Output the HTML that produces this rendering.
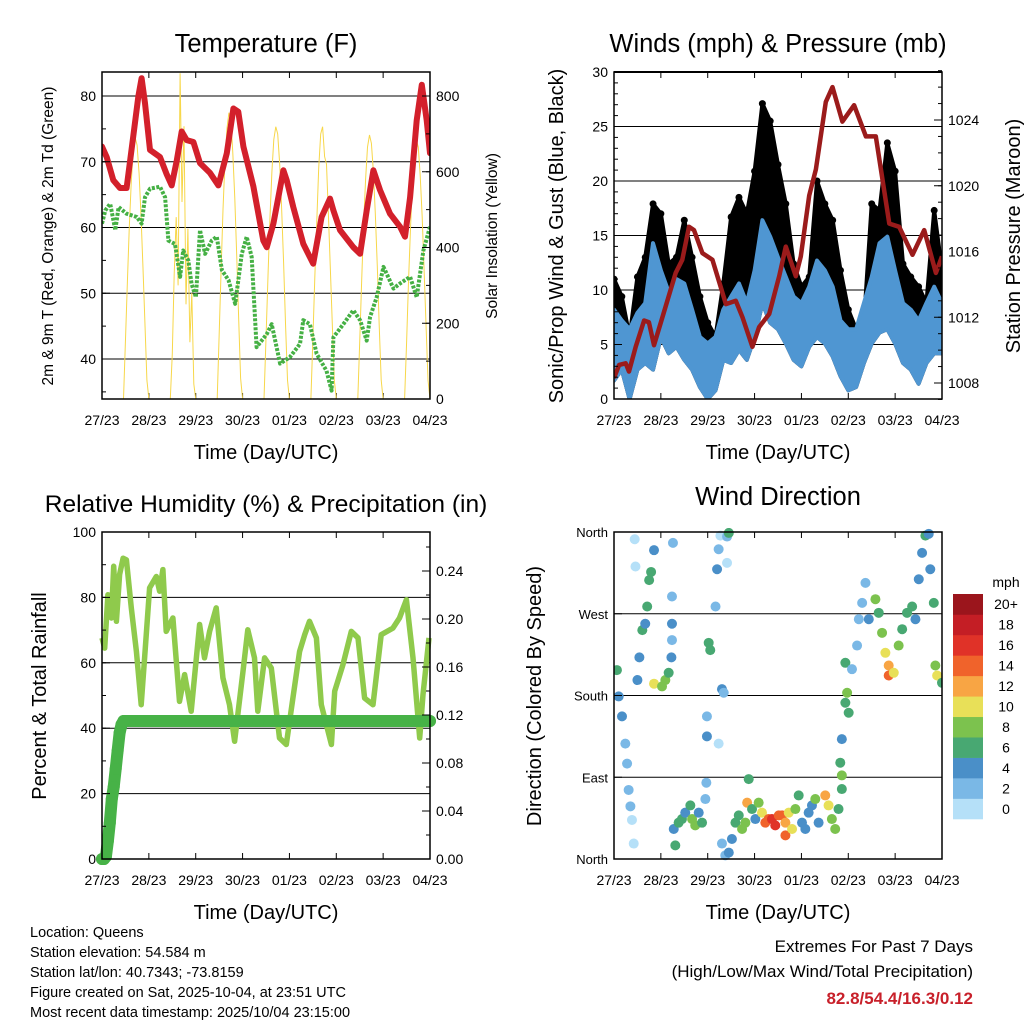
<!DOCTYPE html>
<html><head><meta charset="utf-8"><style>
html,body{margin:0;padding:0;background:#fff;}
svg text{font-family:"Liberation Sans",sans-serif;fill:#000;}
</style></head><body>
<svg id="s" width="1024" height="1024" viewBox="0 0 1024 1024" xmlns="http://www.w3.org/2000/svg"></svg>
<script>
// ---------- data ----------
const dayLabels = ["27/23","28/23","29/23","30/23","01/23","02/23","03/23","04/23"];
const tHours = [0,2.4,5.8,9.2,12.6,16,18.6,20.3,22,24.6,29.7,33,35.7,38.3,40.8,43.4,46.8,50.2,55.3,59.6,63.9,67.3,69.8,72.4,77.5,82.6,84.4,87.8,92.9,94.6,98,103.1,108.2,112.5,116.8,118.5,121.9,128.7,132.2,135.6,139,142.4,147.5,152.7,155.2,157.8,161.2,163.8,166.3,168];
const tempF = [72.3,70.7,67.2,66,66,73.8,79.9,82.7,78.9,71.8,70.7,68.2,66.4,70.2,74.6,73.3,73,69.8,68.3,66.4,71.3,78.1,77.6,72.3,66.3,58,57,60.6,68.7,67.2,63.1,57.5,54.5,61.6,64.4,62.6,59.6,57,56,62.6,68.7,65.7,62.1,60.1,58.6,64.6,76.3,81.7,76.3,71.3];
const dHours = [0,1.7,4.2,6.8,8.5,12.6,17.8,20.3,22,24.6,29.7,32.3,34,37.4,40,41.6,44.2,45.9,48.1,50.2,52.8,56.2,58.8,61.4,64.8,68.2,71.6,74.1,76.7,79.2,84.4,86.9,91.2,96.3,101.4,103.1,106.5,109.9,115,117.6,118.5,123.6,128.7,132.2,135.6,137.3,140.7,144.2,149.3,152.7,157.8,161.2,164.6,168];
const dewF = [60.6,62.6,63.6,59.6,63.1,62.1,61.6,60.6,64.6,65.9,66.2,64.6,58,57.5,52.5,56.5,55,51.4,49.4,59.6,56,58,58.6,53.5,52,48.4,56,58.6,55.5,41.8,43.8,45.3,39.3,40.3,42.3,45.9,45.3,40.8,38.2,35.2,43.3,45.3,47.4,45.9,42.8,46.4,49.4,54,50.7,51.5,52.5,49.4,56.5,60.1];
const solarStart = [11,35,59,83,107,131,155];
const solarDay1 = [0,150,310,455,575,655,690,670,595,485,345,195,50,0];
const solarDay2 = [0,120,330,480,300,860,520,720,250,450,150,280,40,0];
const solarDay3 = [0,165,340,500,630,715,756,735,650,530,380,210,55,0];
const solarDay4 = [0,160,325,475,600,685,719,700,620,505,360,200,50,0];
const solarDay5 = [0,160,320,470,610,700,719,640,620,480,340,190,50,0];
const solarDay6 = [0,150,315,460,580,665,697,675,600,490,350,195,50,0];
const solarDay7 = [0,150,310,450,570,650,684,665,590,480,340,190,50,0];

const wHours = [0,4,8,12,16,20,24,28,32,36,40,44,48,52,56,60,64,68,72,76,80,84,88,92,96,100,104,108,112,116,120,124,128,132,136,140,144,148,152,156,160,164,168];
const gustHigh = [11,9.4,5.7,11.2,13,17.9,17,12.4,13,16.4,13,9.4,7,5.7,10.6,16.7,18.5,17,20.9,27.1,25.5,21.5,17.9,12.4,10.3,11.2,20,17.9,16.4,11.8,8.2,6.4,7,17.9,17.3,23.5,20.9,12.4,11.2,10.3,8.8,17.3,11.8];
const windHigh = [8.2,7.2,6.4,7.9,8.8,14.3,11.8,9.8,11,10.6,8.2,5.7,5.1,5.7,8.2,9.4,10.6,8.8,11.8,16.4,14.9,13,11.2,9.4,8.8,10.3,12.7,11.8,10.3,7.2,6.4,6.4,8.8,11.2,14.3,14.9,11.8,8.8,8.2,7.2,8.8,10.3,8.8];
const windLow = [1.7,2.7,0,2.7,3.3,2.7,5.7,4.2,4.8,3.6,2.7,1.1,0,0.8,3.6,3.3,4.5,3.6,5.7,8.8,7,6.4,5.1,3.6,3,4.8,5.7,5.1,3.9,2.1,0.8,1.1,3.3,5.1,6.1,6.4,5.1,3.3,2.7,1.4,3.3,4.2,4.2];
const pHours = [0,2.6,6,7.7,11.1,15.4,17.9,20.5,24.8,31.6,35,38.4,41,45.3,50.4,57.3,62.4,65.8,70.9,74.3,79.5,84.6,88,93.1,95.7,100,103.4,108.5,111.9,117,123,129,134.1,141,146.1,152.9,158.9,164.9,168];
const pressure = [1008.3,1009.1,1009.2,1008.7,1010.2,1011.8,1011.7,1010.3,1012,1014.7,1015.5,1017.5,1017.3,1015.9,1015.5,1012.8,1013,1012,1010.2,1011.4,1012.2,1014.5,1016.3,1014.5,1015.7,1019.4,1021,1025.1,1026,1023.9,1024.9,1023,1023,1017.7,1017.5,1015.8,1017.3,1014.7,1015.7];

const rhHours = [0,1.4,3,4.8,6,7.4,9,10.8,12.5,15,17.6,20.1,21.8,24.4,27.8,29.5,31.2,32.9,36.3,39.7,42.3,45.7,50,52.5,55.1,58.5,61.9,65.3,67.9,72.2,74.7,78.1,79.8,83.3,86.7,90.9,94.4,97.8,101.2,103.8,106.3,109.8,112.3,117.5,119.2,123.4,127.7,131.1,134.5,138.8,143,149,152.4,155.9,159.3,162.7,164.4,167.5];
const rhPct = [67.6,64.5,80.8,73.7,89.5,72.7,87,92,91.5,76.8,63.5,47.2,61.5,82.9,86.4,81.9,88.5,69.6,73.7,48.2,56.4,45.2,71.7,61.5,69.6,76.8,55.4,47.2,36,57.4,70.1,61.5,45.2,61.5,58.4,37,35,49.2,63.5,68.6,72.7,67.6,47.2,35,51.3,59.4,69.6,67.6,49.2,47.2,68.6,70.6,73.7,79.3,61.5,37,50.3,67.6];
const prHours = [0,1,2,3,4,5,6,7,8,9,10,11,20,40,60,80,100,120,140,160,168];
const precipIn = [0,0,0.002,0.015,0.03,0.05,0.06,0.075,0.09,0.105,0.112,0.115,0.115,0.115,0.115,0.115,0.115,0.115,0.115,0.115,0.115];

const dirHours = [1.5,2.4,4.1,5.8,6.7,7.5,8.4,9.2,10.1,10.6,11,12,13,14.5,16,17,18,19,20.5,20.5,24.6,26.3,28,29.4,29.7,29.7,29.7,30.2,30.6,31.4,33.1,34.8,36.5,39.1,40,41.6,43.4,45.1,46.8,47.3,47.6,47.6,48.5,49.3,52,52.8,53.6,54.5,55.3,56.2,53.6,57.9,57.9,58.8,55.3,57,58.8,60.4,62.2,63.9,65.6,67.3,68.2,69,70.7,72.4,74.1,75.8,77.5,79.2,80.9,82.6,84.4,86.1,87.8,87.8,89.5,91.2,92.9,94.6,96.3,98,99.7,101.4,103.1,104.8,108.2,109.9,111.6,113.3,115,116.7,116.7,115.9,116.7,118.5,119.4,120.2,118.5,121.9,124.5,125.4,127.1,128.8,130.5,133.9,135.6,137.3,139,140.7,140.7,143.3,145.8,147.6,150.1,152.7,154.4,156.1,157.8,159.5,161.2,162,163.8,164.6,165.5,168];
const dirDeg = [208,179,157,127,105,76,58,43,17,352,322,197,222,252,259,278,307,316,340,193,190,197,205,222,241,259,289,348,33,15,40,44,51,59,44,37,51,40,66,84,157,135,238,230,278,319,341,356,187,183,127,355,326,359,17,4,7,22,40,48,33,40,62,88,55,44,62,51,40,44,44,37,48,48,40,26,51,33,55,70,40,33,51,59,66,40,70,59,44,33,55,77,92,106,132,172,183,161,216,209,235,264,282,304,264,286,271,249,227,213,202,205,235,253,271,278,264,308,337,356,358,319,282,213,202,194];
const dirSpeed = [6,5,4,3,3,2,2,1,1,1,1,5,4,6,5,6,7,6,5,10,9,8,7,4,3,4,3,3,4,6,6,7,5,7,9,8,4,7,3,2,3,4,6,7,2,4,3,1,4,3,1,2,1,6,2,3,4,5,7,6,9,8,12,6,6,4,9,10,14,14,16,17,14,15,13,14,11,10,9,7,5,4,4,5,8,4,12,11,9,8,7,6,9,6,4,7,8,7,6,3,3,2,3,2,4,9,7,9,11,13,15,11,8,7,6,7,4,4,4,6,4,5,7,8,10,6];
const cbLabels = ["0","2","4","6","8","10","12","14","16","18","20+"];

// ---------- helpers ----------
const S = document.getElementById('s');
const NS = 'http://www.w3.org/2000/svg';
function mk(tag, attrs, parent) {
  const e = document.createElementNS(NS, tag);
  for (const k in attrs) e.setAttribute(k, attrs[k]);
  (parent || S).appendChild(e);
  return e;
}
function txt(str, x, y, size, anchor, extra, parent) {
  const t = mk('text', Object.assign({x: x, y: y, 'font-size': size, 'text-anchor': anchor || 'middle'}, extra || {}), parent);
  t.textContent = str;
  return t;
}
function linScale(d0, d1, r0, r1) { return v => r0 + (v - d0) / (d1 - d0) * (r1 - r0); }
function pathFrom(xs, ys, fx, fy) {
  let d = '';
  for (let i = 0; i < xs.length; i++) d += (i ? 'L' : 'M') + fx(xs[i]).toFixed(1) + ',' + fy(ys[i]).toFixed(1);
  return d;
}
const SPEED_COLORS = ['#b5e0f8','#7ab8e6','#4a8fc8','#48a872','#7cc24e','#e8e058','#f8a544','#f0632b','#e03228','#c41e25','#9b151c'];
function speedColor(s) { return SPEED_COLORS[Math.min(10, Math.max(0, Math.floor(s / 2)))]; }

function panelFrame(g, x0, y0, x1, y1, fx, gridYs, prefix) {
  for (const gy of gridYs) {
    const l = mk('line', {x1: x0, x2: x1, y1: gy, y2: gy, stroke: '#000', 'stroke-width': 1}, g);
    
    
  }
  for (let d = 0; d < dayLabels.length; d++) {
    const xx = fx(d * 24);
    mk('line', {x1: xx, x2: xx, y1: y1, y2: y1 - 6, stroke: '#000', 'stroke-width': 1}, g);
    mk('line', {x1: xx, x2: xx, y1: y0, y2: y0 + 6, stroke: '#000', 'stroke-width': 1}, g);
    const t = txt(dayLabels[d], xx, y1 + 26, 14, 'middle', {}, g);
    
    
  }
  const tt = txt('Time (Day/UTC)', (x0 + x1) / 2, y1 + 60, 20, 'middle', {}, g);
  
  
}
function border(g, x0, y0, x1, y1) {
  mk('rect', {x: x0, y: y0, width: x1 - x0, height: y1 - y0, fill: 'none', stroke: '#000', 'stroke-width': 1.5}, g);
}
function yTicks(g, vals, fy, x, side, labels, size, minorStep, lo, hi) {
  const dir = side === 'left' ? 1 : -1;
  if (minorStep) for (let v = lo; v <= hi + 1e-9; v += minorStep)
    mk('line', {x1: x, x2: x + dir * 4, y1: fy(v), y2: fy(v), stroke: '#000', 'stroke-width': 1}, g);
  vals.forEach((v, i) => {
    mk('line', {x1: x, x2: x + dir * 8, y1: fy(v), y2: fy(v), stroke: '#000', 'stroke-width': 1}, g);
    const t = txt(labels[i], side === 'left' ? x - 6 : x + 6, fy(v) + 5, size, side === 'left' ? 'end' : 'start', {}, g);
    
    
  });
}

// ---------- Panel 1: Temperature ----------
(function () {
  const g = mk('g', {});
  
  
  const x0 = 102, x1 = 430, y0 = 72, y1 = 399;
  const fx = linScale(0, 168, x0, x1);
  const fy = linScale(40, 80, 359, 96);
  const fs = linScale(0, 800, 399, 96);
  const t = txt('Temperature (F)', 266, 52, 25.5, 'middle', {}, g);
  
  
  panelFrame(g, x0, y0, x1, y1, fx, [40,50,60,70,80].map(fy), 'temp');
  const clip = mk('clipPath', {id: 'c1'}, g);
  mk('rect', {x: x0, y: y0, width: x1 - x0, height: y1 - y0}, clip);
  const pg = mk('g', {'clip-path': 'url(#c1)'}, g);
  const days = [solarDay1, solarDay2, solarDay3, solarDay4, solarDay5, solarDay6, solarDay7];
  days.forEach((arr, i) => {
    const hs = arr.map((_, k) => solarStart[i] + k);
    const p = mk('path', {d: pathFrom(hs, arr, fx, fs), fill: 'none', stroke: '#f7d74a', 'stroke-width': 1}, pg);
    
    
  });
  const tl = mk('path', {d: pathFrom(tHours, tempF, fx, fy), fill: 'none', stroke: '#d3202b', 'stroke-width': 6, 'stroke-linejoin': 'round', 'stroke-linecap': 'round'}, pg);
  
  
  const dl = mk('path', {d: pathFrom(dHours, dewF, fx, fy), fill: 'none', stroke: '#45b044', 'stroke-width': 4, 'stroke-dasharray': '3,1.5', 'stroke-linejoin': 'round'}, pg);
  
  
  border(g, x0, y0, x1, y1);
  yTicks(g, [40,50,60,70,80], fy, x0, 'left', ['40','50','60','70','80'], 14, 5, 35, 80);
  yTicks(g, [0,200,400,600,800], fs, x1, 'right', ['0','200','400','600','800'], 14, 100, 0, 800);
  const yl = txt('2m & 9m T (Red, Orange) & 2m Td (Green)', 0, 0, 15.5, 'middle', {transform: 'translate(53,236) rotate(-90)'}, g);
  
  
  const yr = txt('Solar Insolation (Yellow)', 0, 0, 15.5, 'middle', {transform: 'translate(497,236) rotate(-90)'}, g);
  
  
})();

// ---------- Panel 2: Winds ----------
(function () {
  const g = mk('g', {});
  
  
  const x0 = 614, x1 = 942, y0 = 72, y1 = 399;
  const fx = linScale(0, 168, x0, x1);
  const fy = linScale(0, 30, 399, 72);
  const fp = linScale(1008, 1024, 383, 120);
  const t = txt('Winds (mph) & Pressure (mb)', 778, 52, 25.5, 'middle', {}, g);
  
  
  panelFrame(g, x0, y0, x1, y1, fx, [5,10,15,20,25].map(fy), 'wind');
  const clip = mk('clipPath', {id: 'c2'}, g);
  mk('rect', {x: x0, y: y0, width: x1 - x0, height: y1 - y0}, clip);
  const pg = mk('g', {'clip-path': 'url(#c2)'}, g);
  const revH = wHours.slice().reverse();
  let gd = pathFrom(wHours, gustHigh, fx, fy) + pathFrom(revH, windLow.slice().reverse(), fx, fy).replace('M', 'L') + 'Z';
  const gb = mk('path', {d: gd, fill: '#000', stroke: '#000', 'stroke-width': 4, 'stroke-linejoin': 'round'}, pg);
  
  
  wHours.forEach((h, i) => {
    const c = mk('circle', {cx: fx(h), cy: fy(gustHigh[i]), r: 3.5, fill: '#000'}, pg);
    
    
  });
  let bd = pathFrom(wHours, windHigh, fx, fy) + pathFrom(revH, windLow.slice().reverse(), fx, fy).replace('M', 'L') + 'Z';
  const bb = mk('path', {d: bd, fill: '#4f96d2', stroke: '#4f96d2', 'stroke-width': 4, 'stroke-linejoin': 'round'}, pg);
  
  
  const pl = mk('path', {d: pathFrom(pHours, pressure, fx, fp), fill: 'none', stroke: '#9b1b1b', 'stroke-width': 4.5, 'stroke-linejoin': 'round'}, pg);
  
  
  border(g, x0, y0, x1, y1);
  mk('line', {x1: x0, x2: x1, y1: y0, y2: y0, stroke: '#000', 'stroke-width': 2}, g);
  yTicks(g, [0,5,10,15,20,25,30], fy, x0, 'left', ['0','5','10','15','20','25','30'], 14, 1, 0, 30);
  yTicks(g, [1008,1012,1016,1020,1024], fp, x1, 'right', ['1008','1012','1016','1020','1024'], 14, 1, 1007, 1027);
  const yl = txt('Sonic/Prop Wind & Gust (Blue, Black)', 0, 0, 20, 'middle', {transform: 'translate(563,236) rotate(-90)'}, g);
  
  
  const yr = txt('Station Pressure (Maroon)', 0, 0, 20, 'middle', {transform: 'translate(1020,236) rotate(-90)'}, g);
  
  
})();

// ---------- Panel 3: RH & precip ----------
(function () {
  const g = mk('g', {});
  
  
  const x0 = 102, x1 = 430, y0 = 532, y1 = 859;
  const fx = linScale(0, 168, x0, x1);
  const fy = linScale(0, 100, 859, 532);
  const fr = linScale(0, 0.24, 859, 571);
  const t = txt('Relative Humidity (%) & Precipitation (in)', 266, 512, 24.5, 'middle', {}, g);
  
  
  panelFrame(g, x0, y0, x1, y1, fx, [20,40,60,80].map(fy), 'rh');
  const rl = mk('path', {d: pathFrom(rhHours, rhPct, fx, fy), fill: 'none', stroke: '#8fca4c', 'stroke-width': 5.5, 'stroke-linejoin': 'round'}, g);
  
  
  const pl = mk('path', {d: pathFrom(prHours, precipIn, fx, fr), fill: 'none', stroke: '#47b247', 'stroke-width': 12, 'stroke-linejoin': 'round', 'stroke-linecap': 'round'}, g);
  
  
  prHours.forEach((h, i) => {
    const c = mk('circle', {cx: fx(h), cy: fr(precipIn[i]), r: 6, fill: '#47b247'}, g);
    
    
  });
  border(g, x0, y0, x1, y1);
  yTicks(g, [0,20,40,60,80,100], fy, x0, 'left', ['0','20','40','60','80','100'], 14, 10, 0, 100);
  yTicks(g, [0,0.04,0.08,0.12,0.16,0.2,0.24], fr, x1, 'right', ['0.00','0.04','0.08','0.12','0.16','0.20','0.24'], 14, 0.02, 0, 0.26);
  const yl = txt('Percent & Total Rainfall', 0, 0, 20, 'middle', {transform: 'translate(46,696) rotate(-90)'}, g);
  
  
})();

// ---------- Panel 4: Wind direction ----------
(function () {
  const g = mk('g', {});
  
  
  const x0 = 614, x1 = 942, y0 = 532, y1 = 859;
  const fx = linScale(0, 168, x0, x1);
  const fy = linScale(0, 360, 859, 532);
  const t = txt('Wind Direction', 778, 505, 25.5, 'middle', {}, g);
  
  
  panelFrame(g, x0, y0, x1, y1, fx, [90,180,270].map(fy), 'dir');
  const clip = mk('clipPath', {id: 'c4'}, g);
  mk('rect', {x: x0, y: y0 - 4, width: x1 - x0, height: y1 - y0 + 8}, clip);
  const pg = mk('g', {'clip-path': 'url(#c4)'}, g);
  dirHours.forEach((h, i) => {
    const c = mk('circle', {cx: fx(h), cy: fy(dirDeg[i]), r: 5, fill: speedColor(dirSpeed[i])}, pg);
    
    
  });
  border(g, x0, y0, x1, y1);
  yTicks(g, [0,90,180,270,360], fy, x0, 'left', ['North','East','South','West','North'], 13, 0, 0, 0);
  const yl = txt('Direction (Colored By Speed)', 0, 0, 20, 'middle', {transform: 'translate(541,696) rotate(-90)'}, g);
  
  
  const cb = mk('g', {}, g);
  
  
  const cbTop = 594, cbBot = 819, h = (cbBot - cbTop) / 11;
  cbLabels.forEach((lab, i) => {
    const yy = cbBot - (i + 1) * h;
    const r = mk('rect', {x: 953, y: yy, width: 30, height: h + 0.3, fill: SPEED_COLORS[i]}, cb);
    
    
    const tl = txt(lab, 1006, yy + h / 2 + 5, 14, 'middle', {}, cb);
    
    
  });
  const mu = txt('mph', 1006, 587, 14, 'middle', {}, cb);
  
  
})();

// ---------- footer ----------
const info = ['Location: Queens','Station elevation: 54.584 m','Station lat/lon: 40.7343; -73.8159','Figure created on Sat, 2025-10-04, at 23:51 UTC','Most recent data timestamp: 2025/10/04 23:15:00'];
info.forEach((s, i) => {
  const t = txt(s, 30, 937 + i * 20, 14.5, 'start');
  
  
});
const e1 = txt('Extremes For Past 7 Days', 973, 952, 17, 'end');


const e2 = txt('(High/Low/Max Wind/Total Precipitation)', 973, 977, 17, 'end');


const e3 = txt('82.8/54.4/16.3/0.12', 973, 1004, 17, 'end', {'font-weight': 'bold', style: 'fill:#c8202a'});


</script>
</body></html>
